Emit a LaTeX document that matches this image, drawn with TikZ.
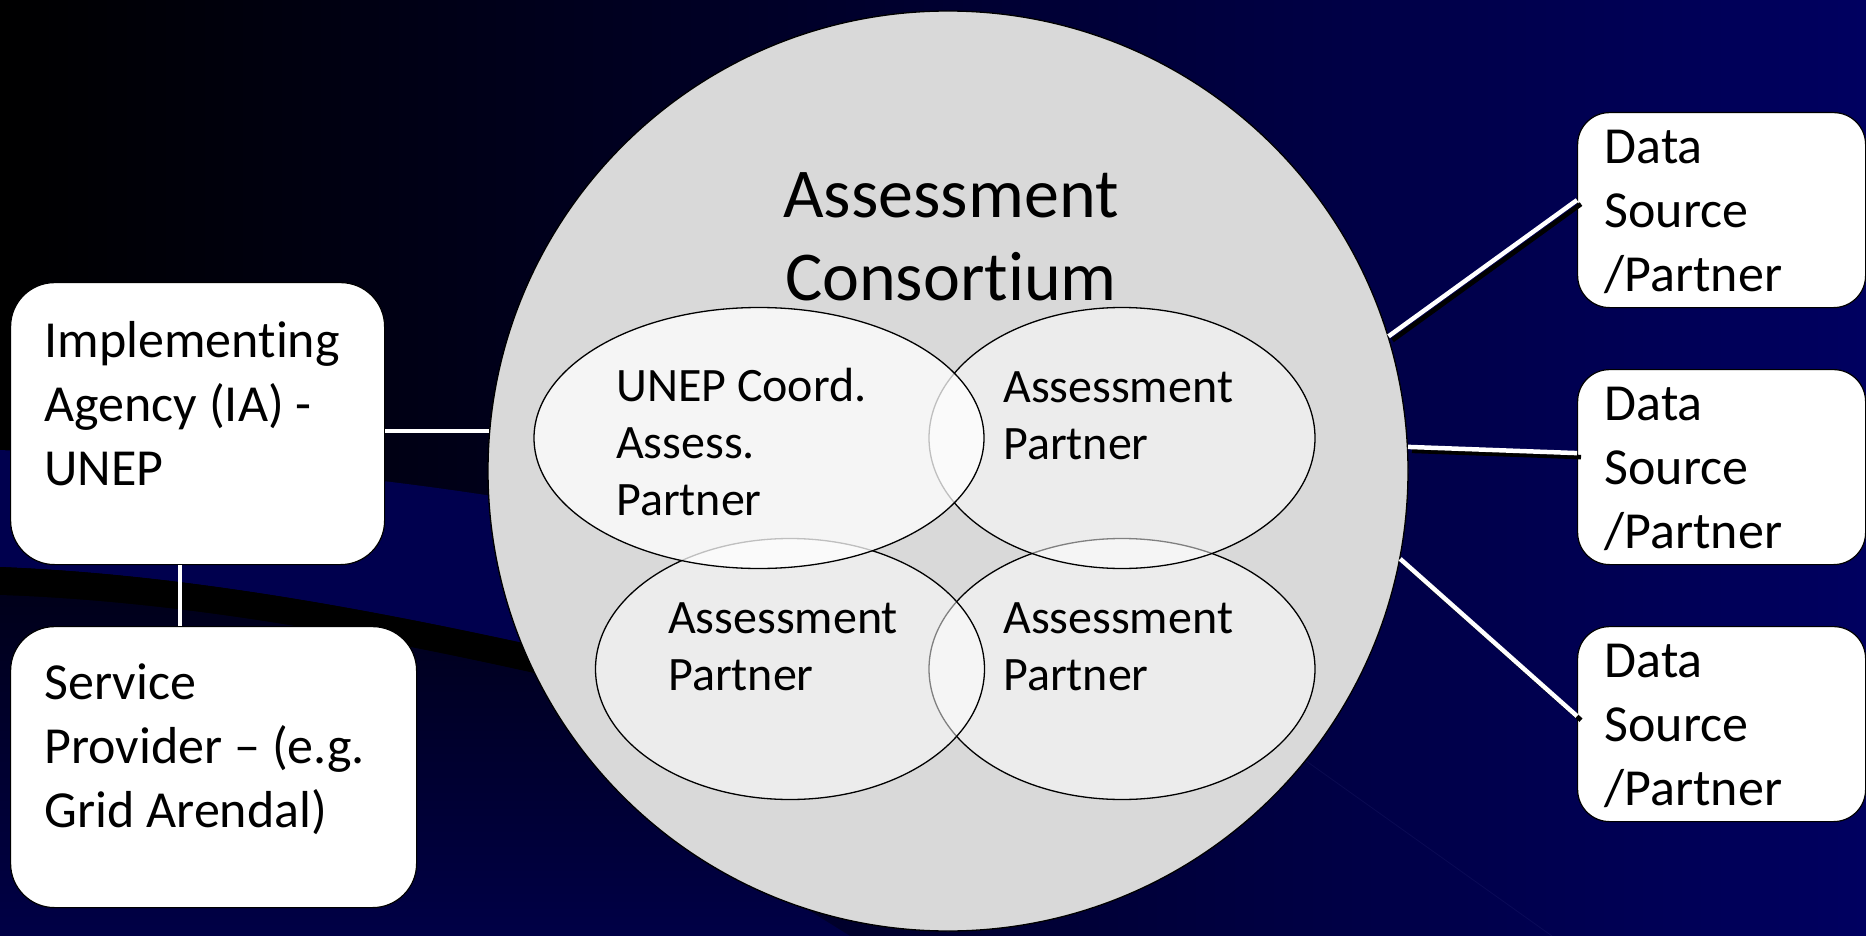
\documentclass[tikz,border=0pt]{standalone}
\usepackage{fontspec}
\setmainfont{Carlito}[Ligatures={TeX,NoCommon}]
\usetikzlibrary{shapes.geometric}

\definecolor{navy}{RGB}{0,0,96}
\definecolor{midnavy}{RGB}{0,0,70}
\definecolor{bandnavy}{RGB}{0,0,78}
\definecolor{deepnavy}{RGB}{0,0,26}
\definecolor{consgrey}{RGB}{217,217,217}

\tikzset{
  orgbox/.style={draw=black, line width=1.2pt, fill=white, rounded corners=44pt,
    inner xsep=34pt, inner ysep=30pt, anchor=north west, font=\fontsize{52}{64}\selectfont},
  srcbox/.style={orgbox, rounded corners=32pt, inner xsep=27pt, inner ysep=6pt},
  partner/.style={ellipse, draw=black, line width=1.3pt, fill=white, fill opacity=0.5,
    inner sep=0pt, minimum height=261pt},
  ptext/.style={anchor=north west, inner sep=0pt, align=left, font=\fontsize{48}{57}\selectfont},
  wire/.style={white, line width=4.5pt},
  wireshadow/.style={black, line width=4.5pt, transform canvas={xshift=4pt, yshift=-4pt}},
}

\begin{document}
\begin{tikzpicture}[x=1pt, y=-1pt]
\useasboundingbox (0,0) rectangle (1866,936);

% backdrop: dark to navy, with a swoosh on the left
\shade[left color=black, middle color=midnavy, right color=navy] (0,0) rectangle (1866,936);
\fill[bandnavy] (0,450) .. controls (250,462) and (450,485) .. (600,515)
  -- (600,660) .. controls (400,615) and (200,575) .. (0,567) -- cycle;
\fill[black] (0,567) .. controls (200,575) and (400,615) .. (600,660)
  -- (600,688) .. controls (400,642) and (200,602) .. (0,595) -- cycle;
\shade[top color=deepnavy, bottom color=midnavy] (0,595) .. controls (200,602) and (400,642) .. (600,688)
  -- (660,800) -- (760,880) -- (850,936) -- (0,936) -- cycle;

% the consortium
\node[circle, draw=black, line width=1.3pt, fill=consgrey, minimum size=920pt, inner sep=0pt] (cons) at (948,471) {};
\draw[navy!80!white, line width=0.8pt, opacity=0.2] (cons.-39) -- (1552,936);
\node[anchor=north, inner sep=0pt, align=center, font=\fontsize{70}{83}\selectfont] (title) at (951,159)
  {\strut Assessment\\Consortium};

% partners, back to front
\node[partner, minimum width=386pt] (br) at (1122,669) {};
\node[partner, minimum width=386pt] (tr) at (1122,438) {};
\node[partner, minimum width=389pt] (bl) at (790,669) {};
\node[partner, minimum width=450pt, fill opacity=0.75] (tl) at (759,438) {};

\node[ptext] (tltext) at (616,361) {\strut UNEP Coord.\\Assess.\\Partner};
\node[ptext] (trtext) at (1003,362) {\strut Assessment\\Partner};
\node[ptext] (bltext) at (668,593) {\strut Assessment\\Partner};
\node[ptext] (brtext) at (1003,593) {\strut Assessment\\Partner};

% agency side
\node[orgbox] (ia) at (10,282)
  {\parbox[c][222pt][t]{306pt}{\raggedright\strut Implementing\\Agency (IA) -\\UNEP}};
\node[orgbox, inner ysep=28pt] (sp) at (10,626)
  {\parbox[c][225pt][t]{338pt}{\raggedright\strut Service\\Provider -- (e.g.\\Grid Arendal)}};

% data sources
\node[srcbox] (ds1) at (1577,112)
  {\parbox[c][183pt][t]{234pt}{\raggedright\strut Data\\Source\\/Partner}};
\node[srcbox] (ds2) at (1577,369)
  {\parbox[c][183pt][t]{234pt}{\raggedright\strut Data\\Source\\/Partner}};
\node[srcbox] (ds3) at (1577,626)
  {\parbox[c][183pt][t]{234pt}{\raggedright\strut Data\\Source\\/Partner}};

% connectors
\draw[wire, line width=4pt] (ia.east |- cons.175.8) -- (cons.175.8);
\draw[wire, line width=4pt] ([xshift=-18pt]ia.south) -- ([xshift=-18pt]ia.south |- sp.north);

\draw[wireshadow] (cons.17) -- ([yshift=10pt]ds1.west);
\draw[wire] (cons.17) -- ([yshift=10pt]ds1.west);
\draw[wireshadow] (cons.3.5) -- ([yshift=14pt]ds2.west);
\draw[wire] (cons.3.5) -- ([yshift=14pt]ds2.west);
\draw[wireshadow] (cons.-11.7) -- ([yshift=8pt]ds3.west);
\draw[wire] (cons.-11.7) -- ([yshift=8pt]ds3.west);

\end{tikzpicture}
\end{document}
